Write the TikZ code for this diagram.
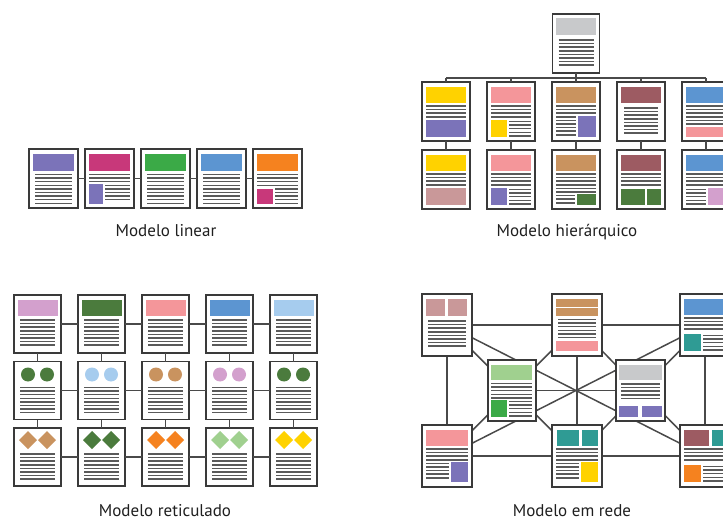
\documentclass[tikz,border=0pt]{standalone}
\usepackage{fontspec}
\setmainfont{PT Sans}
\usetikzlibrary{backgrounds}
\definecolor{cpurple}{HTML}{7B73B9}
\definecolor{cmagenta}{HTML}{C8387A}
\definecolor{cgreen}{HTML}{3BAA47}
\definecolor{cblue}{HTML}{5C95D1}
\definecolor{corange}{HTML}{F5821F}
\definecolor{cyellow}{HTML}{FFD200}
\definecolor{cpink}{HTML}{F4969A}
\definecolor{ctan}{HTML}{C9935F}
\definecolor{cdrose}{HTML}{9D5B62}
\definecolor{cdusty}{HTML}{C99899}
\definecolor{cdgreen}{HTML}{4B7B3D}
\definecolor{clilac}{HTML}{D3A0CD}
\definecolor{cltblue}{HTML}{A6CCEE}
\definecolor{cltgreen}{HTML}{A0D08F}
\definecolor{cteal}{HTML}{2F9B94}
\definecolor{cgray}{HTML}{C8C9CB}
\definecolor{framec}{HTML}{3A3A3A}
\definecolor{txtc}{HTML}{5A5A5A}
\definecolor{connc}{HTML}{4A4A4A}
\tikzset{
  pg/.style 2 args={draw=framec, fill=white, line width=1.6pt, inner sep=0pt, outer sep=0pt, minimum width=#1, minimum height=#2},
  conn/.style={draw=connc, line width=1.5pt},
  txt/.style={draw=txtc, line width=1.5pt},
  lbl/.style={font=\fontsize{17}{20}\selectfont, text=black!88, anchor=base, inner sep=0pt}
}
\newcommand\pgl[4]{\foreach \k in {1,...,#4}{\draw[txt] (#1,{#3+(\k-1)*3.6}) -- (#2,{#3+(\k-1)*3.6});}}
\begin{document}
\begin{tikzpicture}[x=1pt,y=-1pt]
\useasboundingbox (0,0) rectangle (723,521);

% ================= Modelo linear =================
\foreach \i in {1,...,5}{
  \node[pg={49pt}{59pt}] (L\i) at ({53.5+(\i-1)*56},178.5) {};
}
\begin{scope}[shift={(L1.north west)}]
  \fill[cpurple] (4,5) rectangle (45,22); \pgl{6}{43}{25.5}{9}
\end{scope}
\begin{scope}[shift={(L2.north west)}]
  \fill[cmagenta] (4,5) rectangle (45,22); \pgl{4}{45}{25.5}{3}
  \fill[cpurple] (4,35) rectangle (18,55); \pgl{20}{45}{36.3}{5}
\end{scope}
\begin{scope}[shift={(L3.north west)}]
  \fill[cgreen] (4,5) rectangle (45,22); \pgl{6}{43}{25.5}{9}
\end{scope}
\begin{scope}[shift={(L4.north west)}]
  \fill[cblue] (4,5) rectangle (45,22); \pgl{6}{43}{25.5}{9}
\end{scope}
\begin{scope}[shift={(L5.north west)}]
  \fill[corange] (4,5) rectangle (45,22); \pgl{4}{45}{25.5}{4}
  \fill[cmagenta] (4,40) rectangle (20,55); \pgl{22}{45}{39.9}{5}
\end{scope}
\foreach \i/\j in {1/2,2/3,3/4,4/5}{\draw[conn] (L\i.east) -- (L\j.west);}
\node[lbl] (tlin) at (166,237) {Modelo linear};

% ================= Modelo hierárquico =================
\node[pg={47pt}{59pt}] (T) at (576,43.5) {};
\begin{scope}[shift={(T.north west)}]
  \fill[cgray] (3.5,4.5) rectangle (43.5,21); \pgl{6}{41}{26}{8}
\end{scope}
\foreach \i in {1,...,5}{
  \node[pg={48pt}{59pt}] (Ha\i) at ({446+(\i-1)*65},111.5) {};
  \node[pg={48pt}{59pt}] (Hb\i) at ({446+(\i-1)*65},179.5) {};
}
\begin{scope}[shift={(Ha1.north west)}]
  \fill[cyellow] (4,5) rectangle (44,21); \pgl{4}{44}{24}{4}
  \fill[cpurple] (4,38.5) rectangle (44,55);
\end{scope}
\begin{scope}[shift={(Ha2.north west)}]
  \fill[cpink] (4,5) rectangle (44,21); \pgl{4}{44}{24}{4}
  \fill[cyellow] (4,38.5) rectangle (20,55); \pgl{22}{44}{39.5}{5}
\end{scope}
\begin{scope}[shift={(Ha3.north west)}]
  \fill[ctan] (4,5) rectangle (44,21); \pgl{4}{44}{24}{3}
  \fill[cpurple] (26,34) rectangle (44,55); \pgl{4}{24}{34.8}{6}
\end{scope}
\begin{scope}[shift={(Ha4.north west)}]
  \fill[cdrose] (4,5) rectangle (44,21); \pgl{7}{41}{26}{8}
\end{scope}
\begin{scope}[shift={(Ha5.north west)}]
  \fill[cblue] (4,5) rectangle (44,21); \pgl{4}{44}{24}{6}
  \fill[cpink] (4,45.5) rectangle (44,55);
\end{scope}
\begin{scope}[shift={(Hb1.north west)}]
  \fill[cyellow] (4,5) rectangle (44,21); \pgl{4}{44}{24}{4}
  \fill[cdusty] (4,38) rectangle (44,55);
\end{scope}
\begin{scope}[shift={(Hb2.north west)}]
  \fill[cpink] (4,5) rectangle (44,21); \pgl{4}{44}{24}{4}
  \fill[cpurple] (4,38) rectangle (20,55); \pgl{22}{44}{39.5}{5}
\end{scope}
\begin{scope}[shift={(Hb3.north west)}]
  \fill[ctan] (4,5) rectangle (44,21); \pgl{4}{44}{24}{6}
  \fill[cdgreen] (25,44) rectangle (44,55); \pgl{4}{23}{45.6}{3}
\end{scope}
\begin{scope}[shift={(Hb4.north west)}]
  \fill[cdrose] (4,5) rectangle (44,21); \pgl{4}{44}{24}{4}
  \fill[cdgreen] (4,39) rectangle (28,55); \fill[cdgreen] (30,39) rectangle (44,55);
\end{scope}
\begin{scope}[shift={(Hb5.north west)}]
  \fill[cblue] (4,5) rectangle (44,21); \pgl{4}{44}{24}{4}
  \fill[clilac] (26,38) rectangle (44,55); \pgl{4}{24}{39.5}{5}
\end{scope}
\coordinate (bus) at (576,78);
\draw[conn] (T.south) -- (T.south |- bus);
\draw[conn] (Ha1.north |- bus) -- (Ha5.north |- bus);
\foreach \i in {1,...,5}{
  \draw[conn] (Ha\i.north |- bus) -- (Ha\i.north);
  \draw[conn] (Ha\i.south) -- (Hb\i.north);
}
\node[lbl] (thier) at (567,237) {Modelo hierárquico};

% ================= Modelo reticulado =================
\foreach \i/\hc/\cc/\dc in {1/clilac/cdgreen/ctan, 2/cdgreen/cltblue/cdgreen, 3/cpink/ctan/corange, 4/cblue/clilac/cltgreen, 5/cltblue/cdgreen/cyellow}{
  \node[pg={47pt}{58pt}] (Ra\i) at ({37.5+(\i-1)*64},324) {};
  \node[pg={47pt}{58pt}] (Rb\i) at ({37.5+(\i-1)*64},390.5) {};
  \node[pg={47pt}{58pt}] (Rc\i) at ({37.5+(\i-1)*64},457) {};
  \begin{scope}[shift={(Ra\i.north west)}]
    \fill[\hc] (3.5,5) rectangle (43.5,21); \pgl{6}{41}{25}{8}
  \end{scope}
  \begin{scope}[shift={(Rb\i.north west)}]
    \fill[\cc] (14,13) circle (7); \fill[\cc] (33,13) circle (7);
    \pgl{6}{41}{26}{8}
  \end{scope}
  \begin{scope}[shift={(Rc\i.north west)}]
    \fill[\dc] (14,3) -- (23,12) -- (14,21) -- (5,12) -- cycle;
    \fill[\dc] (33,3) -- (42,12) -- (33,21) -- (24,12) -- cycle;
    \pgl{6}{41}{26}{8}
  \end{scope}
}
\foreach \i/\j in {1/2,2/3,3/4,4/5}{
  \draw[conn] (Ra\i.east) -- (Ra\j.west);
  \draw[conn] (Rb\i.east) -- (Rb\j.west);
  \draw[conn] (Rc\i.east) -- (Rc\j.west);
}
\foreach \i in {1,...,5}{
  \draw[conn] (Ra\i.south) -- (Rb\i.north);
  \draw[conn] (Rb\i.south) -- (Rc\i.north);
}
\node[lbl] (tret) at (165,516) {Modelo reticulado};

% ================= Modelo em rede =================
\node[pg={50pt}{62pt}] (A) at (447,325) {};
\node[pg={50pt}{62pt}] (B) at (577,325) {};
\node[pg={50pt}{62pt}] (C) at (705,325) {};
\node[pg={48pt}{61pt}] (D) at (512,390.5) {};
\node[pg={49pt}{61pt}] (E) at (640.5,390.5) {};
\node[pg={50pt}{62pt}] (F) at (447,456) {};
\node[pg={50pt}{62pt}] (G) at (577,456) {};
\node[pg={50pt}{62pt}] (H) at (705,456) {};
\begin{pgfonlayer}{background}
  \foreach \p/\q in {A/B,B/C,F/G,G/H,A/F,C/H,A/H,C/F,B/G,D/E,A/D,B/D,B/E,C/E,D/F,D/G,E/G,E/H}{
    \draw[conn] (\p.center) -- (\q.center);
  }
\end{pgfonlayer}
\begin{scope}[shift={(A.north west)}]
  \fill[cdusty] (4,5.5) rectangle (23,22); \fill[cdusty] (26,5.5) rectangle (45,22);
  \pgl{6}{44}{27}{8}
\end{scope}
\begin{scope}[shift={(B.north west)}]
  \fill[ctan] (4,5) rectangle (46,13); \fill[ctan] (4,14.5) rectangle (46,22.5);
  \pgl{6}{44}{25.5}{6}
  \fill[cpink] (4,47.5) rectangle (46,57);
\end{scope}
\begin{scope}[shift={(C.north west)}]
  \fill[cblue] (4,5) rectangle (46,21); \pgl{4}{46}{24}{4}
  \fill[cteal] (4,40) rectangle (21,57); \pgl{23}{46}{41.5}{5}
\end{scope}
\begin{scope}[shift={(D.north west)}]
  \fill[cltgreen] (3,5) rectangle (44,20); \pgl{3}{44}{23.5}{5}
  \fill[cgreen] (3,40) rectangle (19,57); \pgl{21}{44}{41.5}{5}
\end{scope}
\begin{scope}[shift={(E.north west)}]
  \fill[cgray] (3,5) rectangle (46,20); \pgl{5}{44}{24}{5}
  \fill[cpurple] (3,46) rectangle (22,57); \fill[cpurple] (26,46) rectangle (46,57);
\end{scope}
\begin{scope}[shift={(F.north west)}]
  \fill[cpink] (4,5) rectangle (46,21); \pgl{4}{46}{24}{4}
  \fill[cpurple] (29,37) rectangle (46,57); \pgl{4}{27}{38.4}{5}
\end{scope}
\begin{scope}[shift={(G.north west)}]
  \fill[cteal] (5,5) rectangle (27,21); \fill[cteal] (30,5) rectangle (46,21);
  \pgl{4}{46}{24}{4}
  \fill[cyellow] (29,37) rectangle (46,57); \pgl{4}{27}{38.4}{5}
\end{scope}
\begin{scope}[shift={(H.north west)}]
  \fill[cdrose] (4,5) rectangle (29,21); \fill[cteal] (32,5) rectangle (46,21);
  \pgl{4}{46}{24}{4}
  \fill[corange] (4,40) rectangle (21,57); \pgl{23}{46}{41.5}{5}
\end{scope}
\node[lbl] (tnet) at (572,516) {Modelo em rede};
\end{tikzpicture}
\end{document}
